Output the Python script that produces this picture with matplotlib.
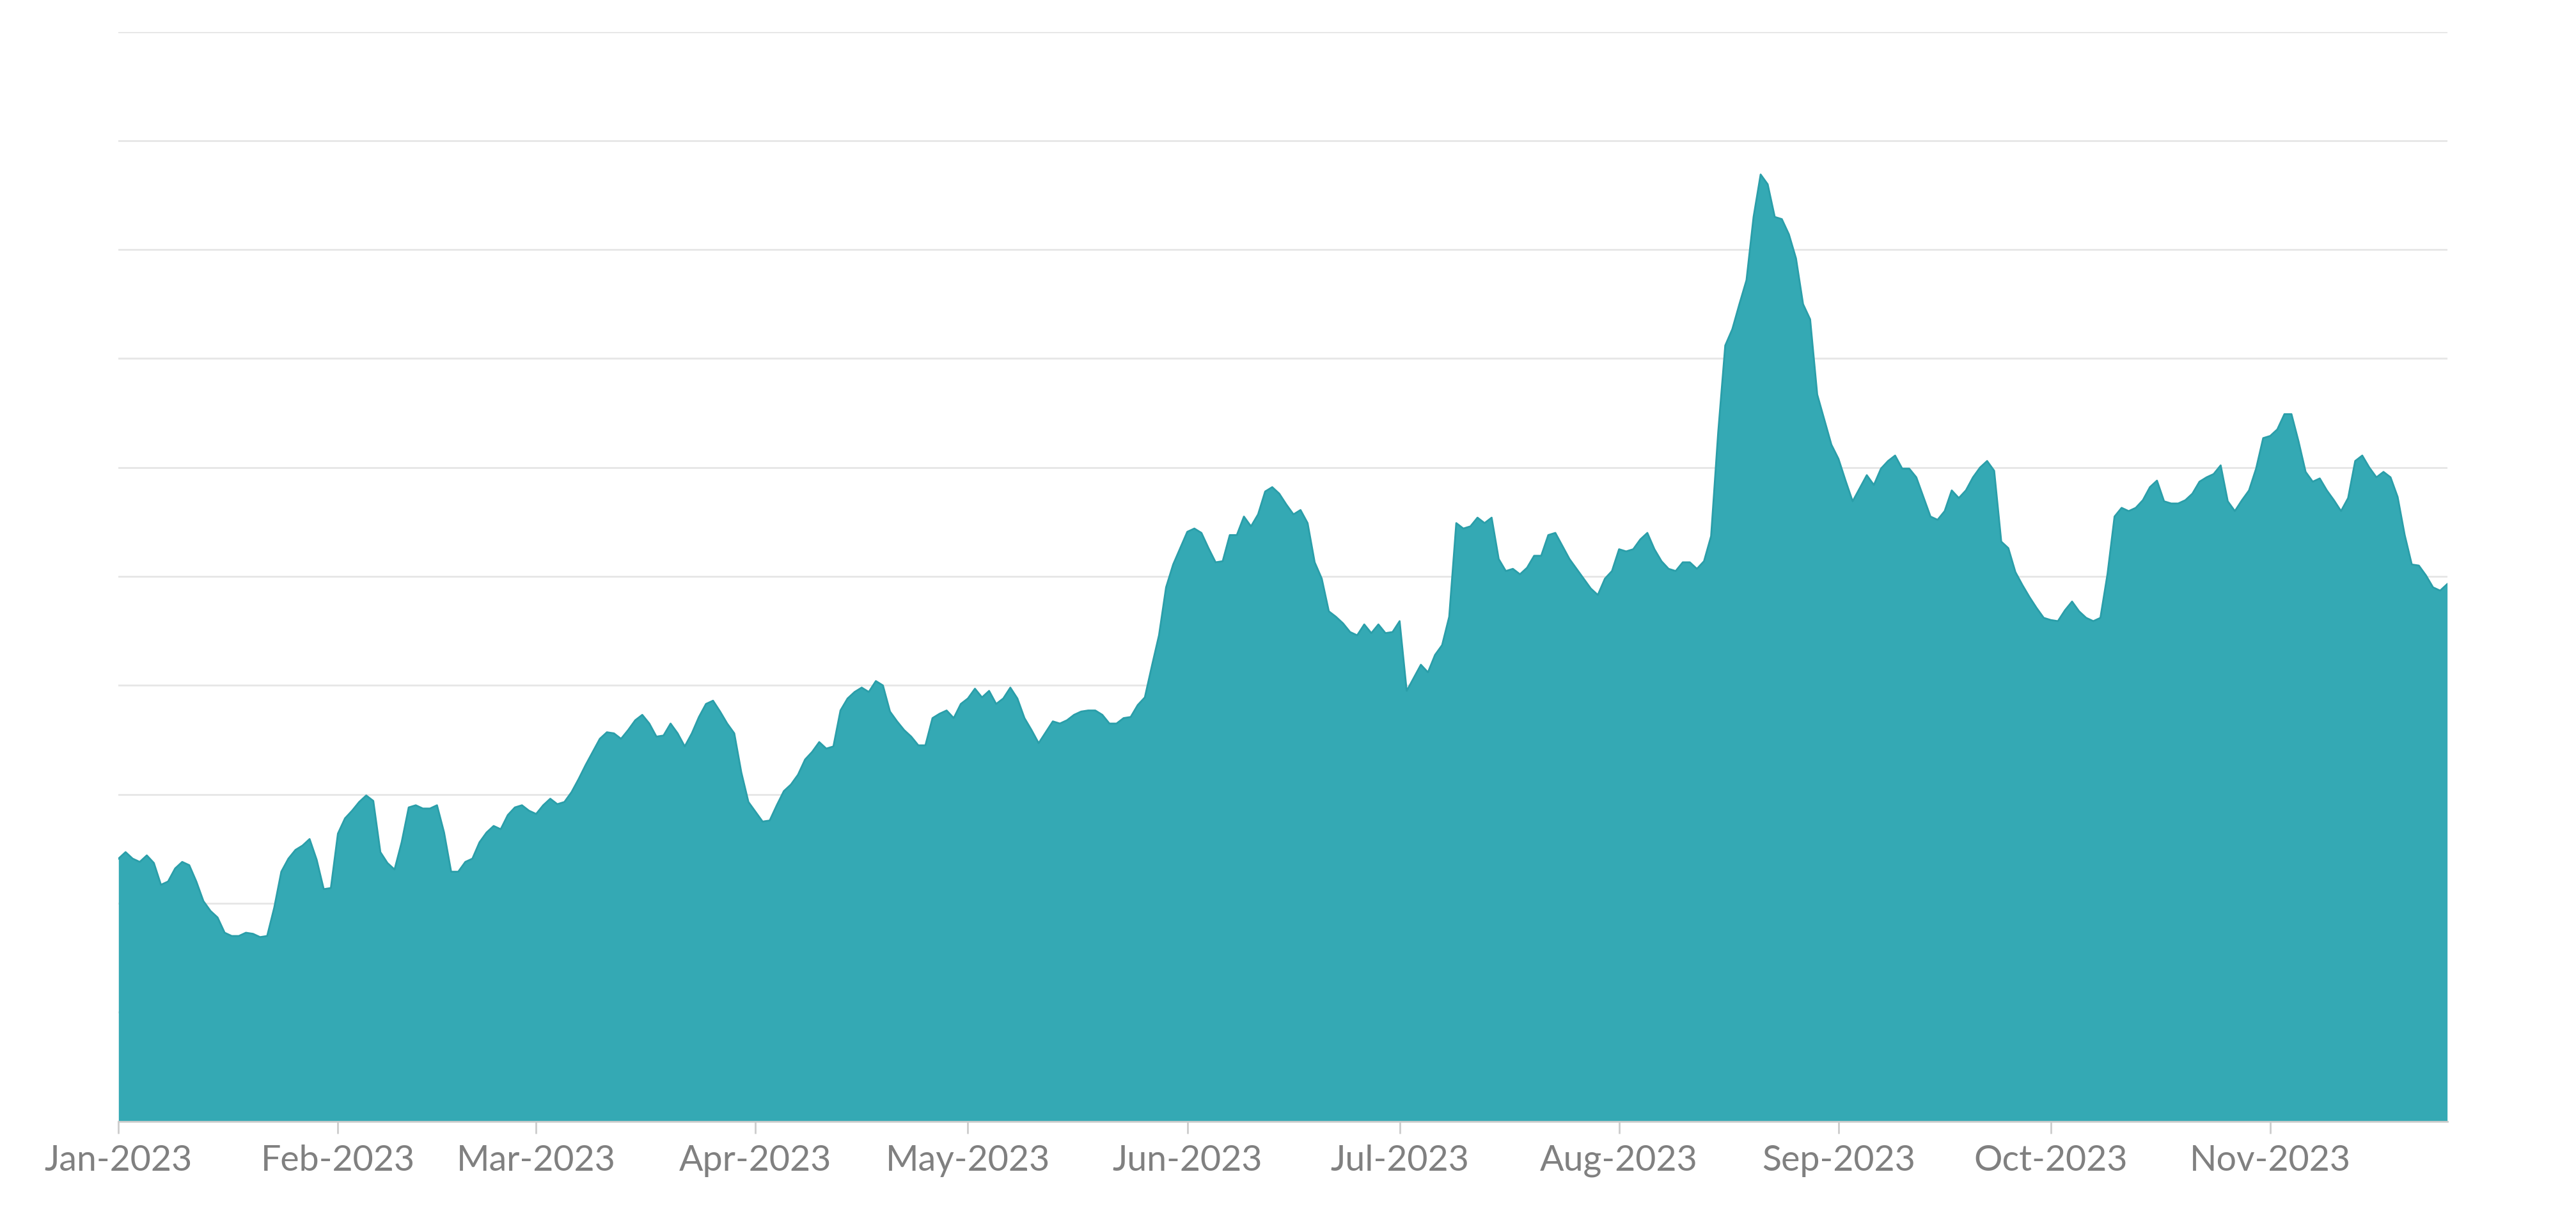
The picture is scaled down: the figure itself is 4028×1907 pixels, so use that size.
import matplotlib
matplotlib.use("Agg")
import matplotlib.pyplot as plt
import matplotlib.dates as mdates
import numpy as np
import pandas as pd

# daily values (arbitrary units, gridline every 10)
values = [
    24.1, 24.7, 24.1, 23.8, 24.4, 23.7, 21.7, 22.0, 23.2, 23.8, 23.5, 22.0, 20.2, 19.3, 18.7, 17.3,
    17.0, 17.0, 17.3, 17.2, 16.9, 17.0, 19.6, 22.9, 24.1, 24.9, 25.3, 25.9, 24.0, 21.3, 21.4, 26.4,
    27.8, 28.5, 29.3, 29.9, 29.4, 24.7, 23.7, 23.1, 25.6, 28.8, 29.0, 28.7, 28.7, 29.0, 26.5, 22.9,
    22.9, 23.8, 24.1, 25.6, 26.5, 27.1, 26.8, 28.1, 28.8, 29.0, 28.5, 28.2, 29.0, 29.6, 29.1, 29.3,
    30.2, 31.4, 32.7, 33.9, 35.1, 35.7, 35.6, 35.1, 35.9, 36.8, 37.3, 36.5, 35.3, 35.4, 36.5, 35.6,
    34.4, 35.6, 37.1, 38.3, 38.6, 37.6, 36.5, 35.6, 32.0, 29.3, 28.4, 27.5, 27.6, 29.0, 30.3, 30.9,
    31.8, 33.2, 33.9, 34.8, 34.2, 34.4, 37.7, 38.8, 39.4, 39.8, 39.4, 40.4, 40.0, 37.6, 36.7, 35.9,
    35.3, 34.5, 34.5, 37.0, 37.4, 37.7, 37.0, 38.3, 38.8, 39.7, 38.9, 39.5, 38.3, 38.8, 39.8, 38.8,
    37.0, 35.9, 34.7, 35.7, 36.7, 36.5, 36.8, 37.3, 37.6, 37.7, 37.7, 37.3, 36.5, 36.5, 37.0, 37.1,
    38.2, 38.9, 41.8, 44.6, 49.0, 51.1, 52.6, 54.1, 54.4, 54.0, 52.6, 51.3, 51.4, 53.8, 53.8, 55.5,
    54.6, 55.7, 57.8, 58.2, 57.6, 56.6, 55.7, 56.1, 54.9, 51.3, 49.8, 46.8, 46.3, 45.7, 44.9, 44.6,
    45.6, 44.8, 45.6, 44.8, 44.9, 45.9, 39.5, 40.7, 41.9, 41.2, 42.8, 43.7, 46.3, 54.9, 54.4, 54.6,
    55.4, 54.9, 55.4, 51.6, 50.5, 50.7, 50.2, 50.8, 51.9, 51.9, 53.8, 54.0, 52.8, 51.6, 50.7, 49.8,
    48.9, 48.3, 49.8, 50.5, 52.5, 52.3, 52.5, 53.4, 54.0, 52.5, 51.4, 50.7, 50.5, 51.3, 51.3, 50.7,
    51.4, 53.7, 63.2, 71.2, 72.7, 75.0, 77.2, 83.0, 86.9, 86.0, 83.0, 82.8, 81.4, 79.2, 75.0, 73.6,
    66.7, 64.4, 62.1, 60.8, 58.8, 56.9, 58.1, 59.3, 58.4, 59.9, 60.6, 61.1, 59.9, 59.9, 59.1, 57.3,
    55.5, 55.2, 56.0, 57.9, 57.2, 57.9, 59.1, 60.0, 60.6, 59.7, 53.2, 52.6, 50.4, 49.2, 48.1, 47.1,
    46.2, 46.0, 45.9, 46.9, 47.7, 46.8, 46.2, 45.9, 46.2, 50.2, 55.5, 56.3, 56.0, 56.3, 57.0, 58.2,
    58.8, 56.9, 56.7, 56.7, 57.0, 57.6, 58.7, 59.1, 59.4, 60.2, 56.9, 56.0, 57.0, 57.9, 59.9, 62.7,
    62.9, 63.5, 64.9, 64.9, 62.4, 59.6, 58.7, 59.0, 57.9, 57.0, 56.0, 57.2, 60.6, 61.1, 60.0, 59.1,
    59.6, 59.1, 57.3, 53.8, 51.1, 51.0, 50.1, 49.0, 48.7, 49.3,
]
dates = pd.date_range("2023-01-01", periods=len(values), freq="D")
month_ticks = pd.date_range("2023-01-01", "2023-11-01", freq="MS")

plt.rcParams["font.family"] = ["Lato", "DejaVu Sans"]

fig = plt.figure(figsize=(40.28, 19.07), dpi=100)
ax = fig.add_axes([0.046, 0.081, 0.904, 0.893])

ax.fill_between(dates, values, 0, color="#34A9B4", alpha=1.0, linewidth=0, zorder=2)
ax.plot(dates, values, color="#2A9EA9", linewidth=2, zorder=3)

ax.set_xlim(dates[0], dates[-1])
ax.set_ylim(0, 100)
ax.set_yticks(np.arange(0, 101, 10))
ax.set_yticklabels([])
ax.tick_params(axis="y", length=0)
ax.grid(axis="y", color="#e6e6e6", linewidth=2, zorder=0)

ax.set_xticks(month_ticks)
ax.xaxis.set_major_formatter(mdates.DateFormatter("%b-%Y"))
ax.tick_params(axis="x", length=14, width=2, color="#cccccc", labelsize=40,
               labelcolor="#808080", pad=12)

for side in ["top", "right", "left"]:
    ax.spines[side].set_visible(False)
ax.spines["bottom"].set_color("#cccccc")
ax.spines["bottom"].set_linewidth(2)

fig.savefig("out.png", dpi=100, facecolor="white")
